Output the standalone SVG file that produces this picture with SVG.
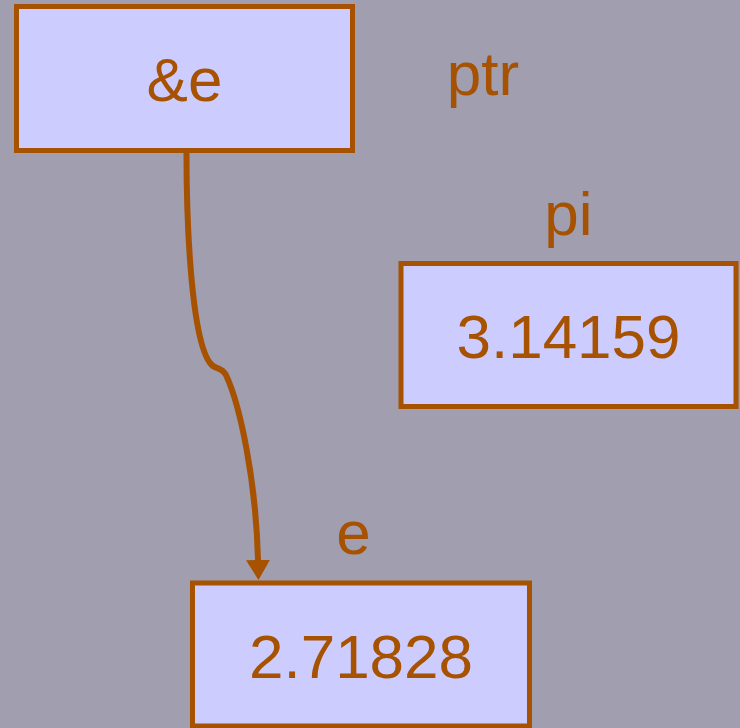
<svg xmlns="http://www.w3.org/2000/svg" width="740" height="728" viewBox="0 0 740 728">
<style>
.box{fill:#ccccff;stroke:#a65200;stroke-width:5}
.t{font-family:"Liberation Sans",Arial,sans-serif;font-size:62px;fill:#a65200;text-anchor:middle}
.edge{fill:none;stroke:#a65200;stroke-width:6}
</style>
<defs>
<marker id="ah" markerUnits="userSpaceOnUse" markerWidth="22" markerHeight="26" refX="0" refY="12" orient="auto" viewBox="0 -1 22 26">
<path d="M0,0 L20,12 L0,24 z" fill="#a65200"/>
</marker>
</defs>
<rect width="740" height="728" fill="#a09eaf"/>
<g id="edges">
<path class="edge" d="M186.5,153 C186.5,230 192,350 213,366 C217,369 222,368 226,375 C240,405 256,480 258,560" marker-end="url(#ah)"/>
</g>
<g id="ptr">
<rect class="box" x="16.5" y="6.5" width="336" height="144"/>
<text class="t" x="184.5" y="101">&amp;e</text>
<text class="t" x="483" y="95">ptr</text>
</g>
<g id="pi">
<rect class="box" x="401" y="263.5" width="335" height="143"/>
<text class="t" x="568.5" y="358">3.14159</text>
<text class="t" x="568.5" y="235">pi</text>
</g>
<g id="e">
<rect class="box" x="192.5" y="583" width="337" height="143"/>
<text class="t" x="361" y="678">2.71828</text>
<text class="t" x="353.5" y="554">e</text>
</g>
</svg>
